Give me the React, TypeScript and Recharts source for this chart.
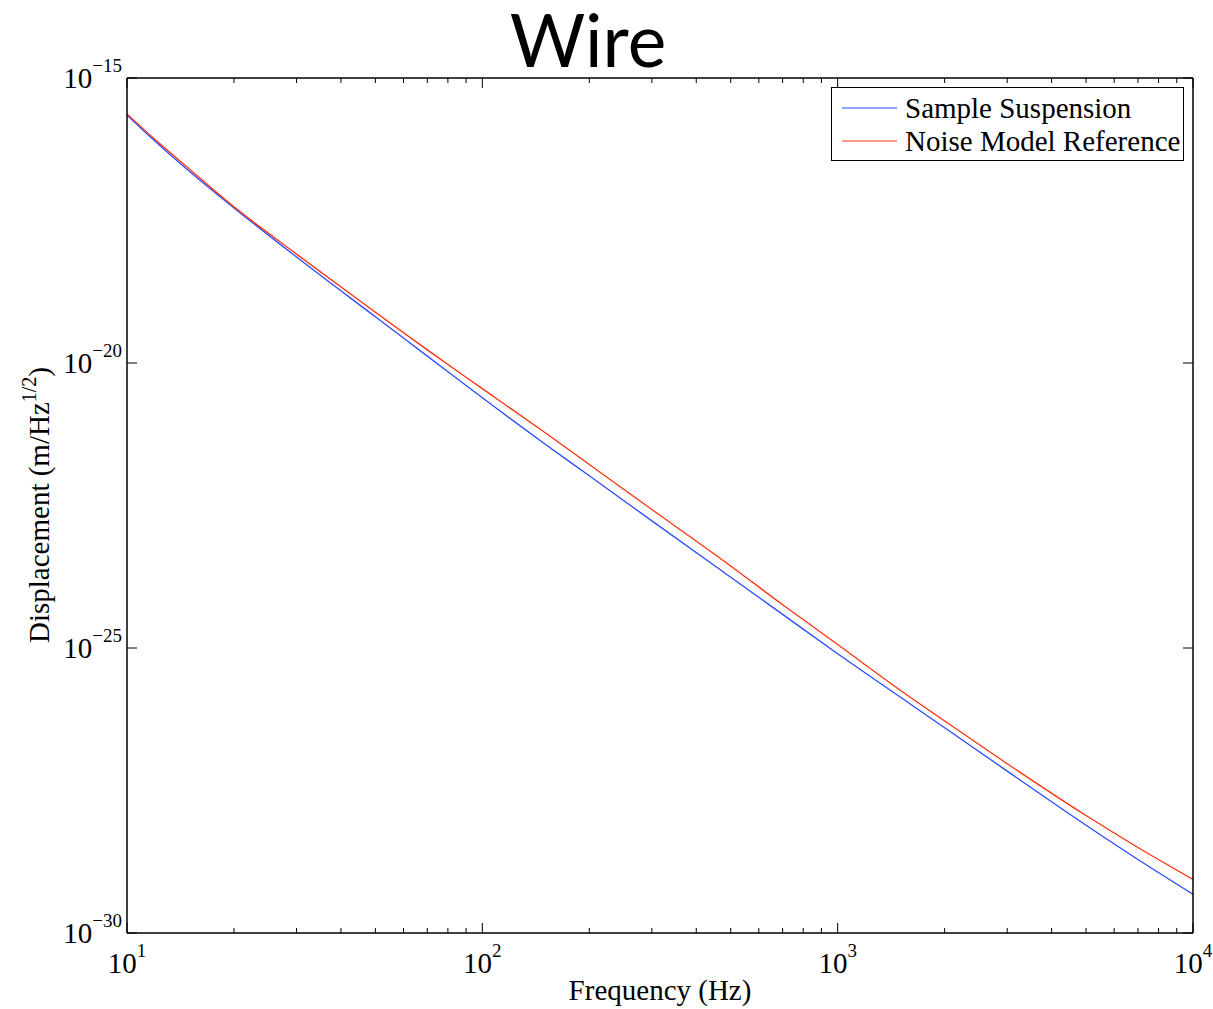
import { LineChart, Line, XAxis, YAxis } from "recharts";

const frequencies = [10, 12, 15, 20, 30, 50, 70, 100, 150, 200, 300, 500, 700, 1000, 1500, 2000, 3000, 5000, 7000, 10000];

const sampleSuspension = [
  2.24e-16, 7.76e-17, 2.29e-17, 5.25e-18, 7.24e-19, 6.46e-20, 1.32e-20, 2.45e-21, 3.8e-22, 1.05e-22,
  1.7e-23, 1.74e-24, 3.89e-25, 7.94e-26, 1.38e-26, 3.98e-27, 6.92e-28, 7.76e-29, 1.95e-29, 4.79e-30,
];

const noiseModelReference = [
  2.34e-16, 8.32e-17, 2.51e-17, 5.5e-18, 8.13e-19, 7.76e-20, 1.7e-20, 3.55e-21, 6.03e-22, 1.66e-22,
  2.69e-23, 2.75e-24, 5.75e-25, 1.15e-25, 1.82e-26, 5.25e-27, 9.33e-28, 1.15e-28, 3.16e-29, 8.71e-30,
];

const xMajorTicks = [10, 100, 1000, 10000];
const xTicks = [
  10, 20, 30, 40, 50, 60, 70, 80, 90,
  100, 200, 300, 400, 500, 600, 700, 800, 900,
  1000, 2000, 3000, 4000, 5000, 6000, 7000, 8000, 9000, 10000,
];
const yTicks = [1e-30, 1e-25, 1e-20, 1e-15];

const seriesNames = ["Sample Suspension", "Noise Model Reference"];

const rows = frequencies.map((f, i) => ({
  freq: f,
  sample: sampleSuspension[i],
  reference: noiseModelReference[i],
}));

const BLUE = "#2b4cff";
const RED = "#ff3210";
const SERIF = "'Liberation Serif', 'Times New Roman', serif";
const FS = 29;

const exponent = (v: number) => {
  const e = Math.round(Math.log10(v));
  return e < 0 ? "\u2212" + Math.abs(e) : String(e);
};

const PowerLabel = ({ x, y, value, anchor }: any) => (
  <text x={x} y={y} textAnchor={anchor} fontFamily={SERIF} fontSize={FS} fill="#000">
    <tspan>10</tspan>
    <tspan dy={-16} fontSize={19}>{exponent(value)}</tspan>
  </text>
);

const BottomTick = (props: any) => {
  const { x, y, payload } = props;
  const major = xMajorTicks.includes(payload.value);
  return (
    <g>
      <line x1={x} y1={y} x2={x} y2={y - (major ? 10 : 5)} stroke="#000" strokeWidth={1} />
      {major && <PowerLabel x={x} y={y + 40} value={payload.value} anchor="middle" />}
    </g>
  );
};

const TopTick = (props: any) => {
  const { x, y, payload } = props;
  const major = xMajorTicks.includes(payload.value);
  return <line x1={x} y1={y} x2={x} y2={y + (major ? 10 : 5)} stroke="#000" strokeWidth={1} />;
};

const LeftTick = (props: any) => {
  const { x, y, payload } = props;
  return (
    <g>
      <line x1={x} y1={y} x2={x + 10} y2={y} stroke="#000" strokeWidth={1} />
      <PowerLabel x={x - 5} y={y + 10} value={payload.value} anchor="end" />
    </g>
  );
};

const RightTick = (props: any) => {
  const { x, y } = props;
  return <line x1={x} y1={y} x2={x - 10} y2={y} stroke="#000" strokeWidth={1} />;
};

export default function App() {
  return (
    <div style={{ position: "absolute", left: 0, top: 0, width: 1213, height: 1009, background: "#fff" }}>
      <LineChart width={1213} height={1009} data={rows} margin={{ top: 0, right: 0, bottom: 0, left: 0 }}>
        <XAxis
          xAxisId="bottom"
          dataKey="freq"
          type="number"
          scale="log"
          domain={[10, 10000]}
          ticks={xTicks}
          interval={0}
          height={76}
          tickSize={0}
          tickMargin={0}
          allowDataOverflow
          axisLine={{ stroke: "#000", strokeWidth: 1.5 }}
          tick={<BottomTick />}
        />
        <XAxis
          xAxisId="top"
          orientation="top"
          dataKey="freq"
          type="number"
          scale="log"
          domain={[10, 10000]}
          ticks={xTicks}
          interval={0}
          height={78}
          tickSize={0}
          tickMargin={0}
          allowDataOverflow
          axisLine={{ stroke: "#000", strokeWidth: 1.5 }}
          tick={<TopTick />}
        />
        <YAxis
          yAxisId="left"
          type="number"
          scale="log"
          domain={[1e-30, 1e-15]}
          ticks={yTicks}
          interval={0}
          width={127}
          tickSize={0}
          tickMargin={0}
          allowDataOverflow
          axisLine={{ stroke: "#000", strokeWidth: 1.5 }}
          tick={<LeftTick />}
        />
        <YAxis
          yAxisId="right"
          orientation="right"
          type="number"
          scale="log"
          domain={[1e-30, 1e-15]}
          ticks={yTicks}
          interval={0}
          width={20}
          tickSize={0}
          tickMargin={0}
          allowDataOverflow
          axisLine={{ stroke: "#000", strokeWidth: 1.5 }}
          tick={<RightTick />}
        />
        <Line
          xAxisId="bottom"
          yAxisId="left"
          dataKey="sample"
          name={seriesNames[0]}
          type="monotone"
          stroke={BLUE}
          strokeWidth={1.3}
          dot={false}
          isAnimationActive={false}
        />
        <Line
          xAxisId="bottom"
          yAxisId="left"
          dataKey="reference"
          name={seriesNames[1]}
          type="monotone"
          stroke={RED}
          strokeWidth={1.3}
          dot={false}
          isAnimationActive={false}
        />
      </LineChart>
      <svg width={1213} height={1009} style={{ position: "absolute", left: 0, top: 0, pointerEvents: "none" }}>
        <text x={588} y={67} textAnchor="middle" fontFamily="Lato, 'Open Sans', sans-serif" fontSize={73} fill="#000">
          Wire
        </text>
        <text x={660} y={1000} textAnchor="middle" fontFamily={SERIF} fontSize={FS} fill="#000">
          Frequency (Hz)
        </text>
        <text transform="translate(49, 505) rotate(-90)" textAnchor="middle" fontFamily={SERIF} fontSize={FS} fill="#000">
          Displacement (m/Hz
          <tspan dy={-13} fontSize={20}>1/2</tspan>
          <tspan dy={13}>)</tspan>
        </text>
        <g transform="translate(831, 87)">
          <rect x={0.5} y={0.5} width={352} height={73} fill="#fff" stroke="#000" strokeWidth={1} />
          {seriesNames.map((name, i) => (
            <g key={name}>
              <line x1={11} x2={66} y1={21 + i * 33} y2={21 + i * 33} stroke={i === 0 ? BLUE : RED} strokeWidth={1} />
              <text x={74} y={31 + i * 33} fontFamily={SERIF} fontSize={FS} fill="#000">
                {name}
              </text>
            </g>
          ))}
        </g>
      </svg>
    </div>
  );
}
